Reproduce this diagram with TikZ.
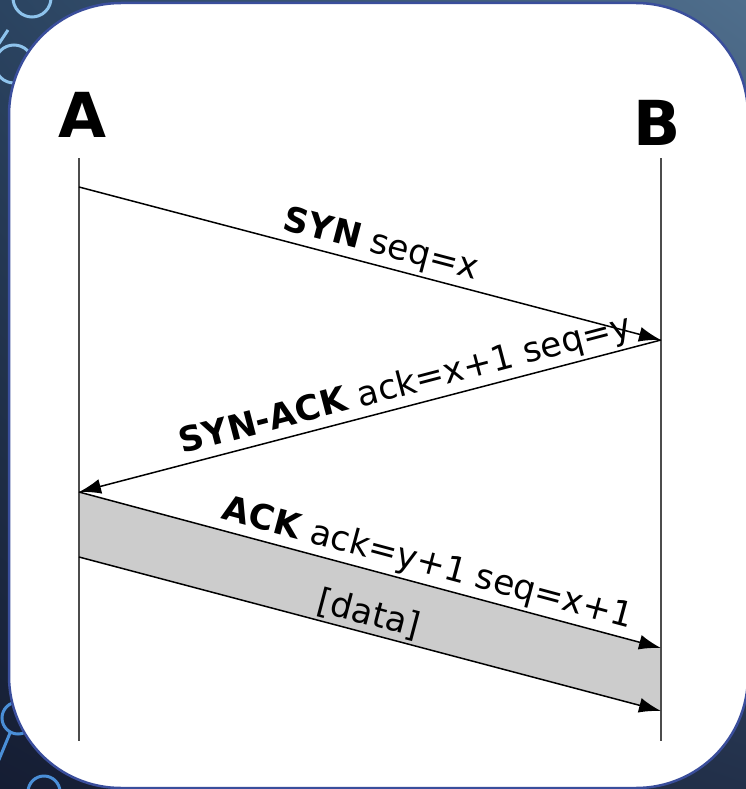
\documentclass[tikz,border=0pt]{standalone}
\usepackage{fontspec}
\setmainfont{DejaVu Sans}
\usetikzlibrary{arrows.meta,shadings}

\definecolor{navyTL}{HTML}{2B4461}
\definecolor{navyTR}{HTML}{4F6E8C}
\definecolor{navyBL}{HTML}{151D33}
\definecolor{navyBR}{HTML}{22304A}
\definecolor{frameblue}{HTML}{3A4E9C}
\definecolor{ringlight}{HTML}{8EC3EC}
\definecolor{ringdark}{HTML}{4A8FD8}
\definecolor{datagray}{HTML}{CCCCCC}

\tikzset{
  lifeline/.style={draw=black!70, line width=1.7pt},
  msg/.style={draw, line width=1.5pt, -{Latex[length=22pt,width=15pt]}},
  party/.style={font=\fontsize{62}{62}\selectfont\bfseries, inner sep=0pt},
  msglabel/.style={font=\fontsize{34.5}{38}\selectfont, sloped, above, inner sep=3pt},
  ring/.style={line width=3pt}
}

\begin{document}
\begin{tikzpicture}[x=1pt,y=-1pt]
  \useasboundingbox (0,0) rectangle (746,789);
  \clip (0,0) rectangle (746,789);

  % slide background
  \shade[upper left=navyTL, upper right=navyTR, lower left=navyBL, lower right=navyBR]
    (0,0) rectangle (746,789);
  \draw[ring, ringlight] (32,-2) circle (19) (14,64) circle (19) (-2,45) -- (8,30);
  \draw[ring, ringdark] (18,718) circle (16) (10,733) -- (-2,762) (44,792) circle (16);

  % card
  \draw[frameblue, fill=white, line width=2.5pt, rounded corners=112pt]
    (9,3) rectangle (748,788);

  % parties
  \node[party] (A) at (82,115) {A};
  \node[party] (B) at (657,123) {B};

  \coordinate (aTop) at (79,158);
  \coordinate (aBot) at (79,741);
  \coordinate (bTop) at (661,158);
  \coordinate (bBot) at (661,741);

  % message end points
  \coordinate (a1) at (79,187);
  \coordinate (b1) at (661,340);
  \coordinate (a2) at (79,492);
  \coordinate (b2) at (661,648);
  \coordinate (a3) at (79,557);
  \coordinate (b3) at (661,711);

  \fill[datagray] (a2) -- (b2) -- (b3) -- (a3) -- cycle;

  \draw[lifeline] (aTop) -- (aBot);
  \draw[lifeline] (bTop) -- (bBot);

  \draw[msg] (a1) -- node[msglabel, pos=0.51] {\textbf{SYN} seq=x} (b1);
  \draw[msg] (b1) -- node[msglabel, pos=0.43] {\textbf{SYN-ACK} ack=x+1 seq=y} (a2);
  \draw[msg] (a2) -- node[msglabel, pos=0.59] {\textbf{ACK} ack=y+1 seq=x+1} (b2);
  \draw[msg] (a3) -- node[msglabel, pos=0.49] {[data]} (b3);
\end{tikzpicture}
\end{document}
